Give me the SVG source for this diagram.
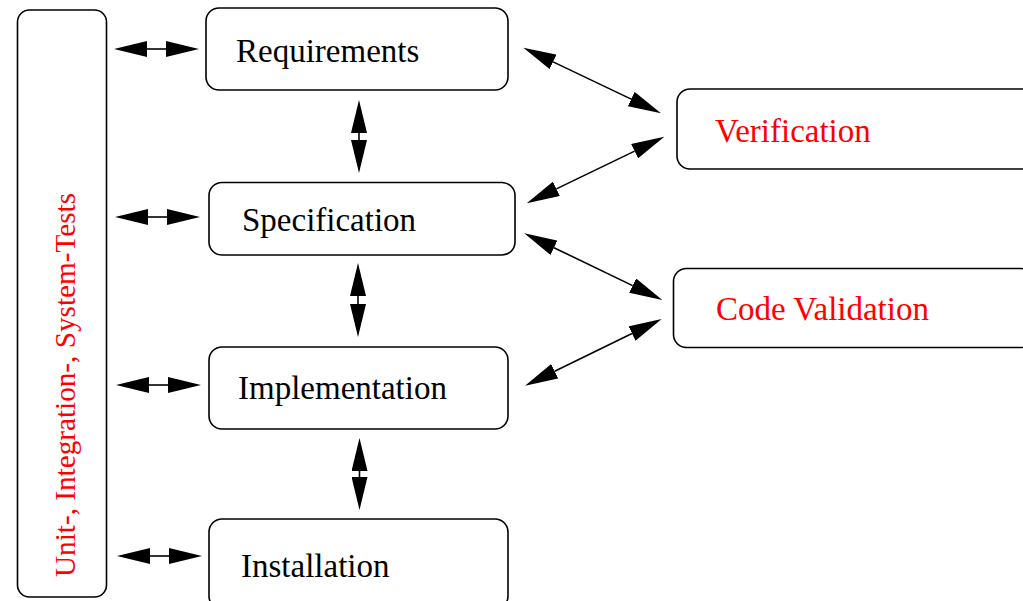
<svg xmlns="http://www.w3.org/2000/svg" width="1023" height="601" viewBox="0 0 1023 601">
<style>
.box{fill:#fff;stroke:#000;stroke-width:1.6}
.lbl{font-family:"Liberation Serif","Times New Roman",serif;font-size:33px;fill:#000}
.red{fill:#ff0000}
.con line{stroke:#000;stroke-width:1.6;marker-start:url(#ah);marker-end:url(#ah)}
</style>
<defs>
<marker id="ah" markerUnits="userSpaceOnUse" viewBox="0 0 33 16" refX="0" refY="8" markerWidth="33" markerHeight="16" orient="auto-start-reverse">
<path d="M0,0 L33,8 L0,16 z" fill="#000"/>
</marker>
</defs>
<rect width="1023" height="601" fill="#fff"/>
<g id="tests">
<rect class="box" x="17.5" y="10" width="89" height="587" rx="12"/>
<text class="lbl red" transform="translate(75,577) rotate(-90)" style="font-size:30px" textLength="384" lengthAdjust="spacingAndGlyphs">Unit-, Integration-, System-Tests</text>
</g>
<g id="requirements">
<rect class="box" x="206" y="8" width="302" height="82" rx="13"/>
<text class="lbl" x="236" y="62">Requirements</text>
</g>
<g id="specification">
<rect class="box" x="209" y="182.5" width="306" height="72.5" rx="13"/>
<text class="lbl" x="242" y="231">Specification</text>
</g>
<g id="implementation">
<rect class="box" x="209" y="347" width="299" height="82" rx="13"/>
<text class="lbl" x="238" y="399">Implementation</text>
</g>
<g id="installation">
<rect class="box" x="209" y="519" width="299" height="90" rx="13"/>
<text class="lbl" x="241" y="577">Installation</text>
</g>
<g id="verification">
<rect class="box" x="677" y="89" width="360" height="80" rx="13"/>
<text class="lbl red" x="715" y="142">Verification</text>
</g>
<g id="codevalidation">
<rect class="box" x="673.5" y="268.5" width="360" height="79" rx="13"/>
<text class="lbl red" x="716" y="320">Code Validation</text>
</g>
<g id="connectors" class="con">
<line x1="147" y1="49" x2="166" y2="49"/>
<line x1="148" y1="217" x2="167" y2="217"/>
<line x1="149" y1="385" x2="168" y2="385"/>
<line x1="150" y1="556" x2="169" y2="556"/>
<line x1="359" y1="133" x2="359" y2="140"/>
<line x1="358" y1="296" x2="358" y2="304"/>
<line x1="359.5" y1="471" x2="359.5" y2="477"/>
<line x1="553.1" y1="61.9" x2="631.2" y2="99.1"/>
<line x1="556.4" y1="188.9" x2="634.6" y2="151.1"/>
<line x1="554" y1="247.7" x2="632.6" y2="285.6"/>
<line x1="554.7" y1="371.2" x2="632" y2="333.5"/>
</g>
</svg>
